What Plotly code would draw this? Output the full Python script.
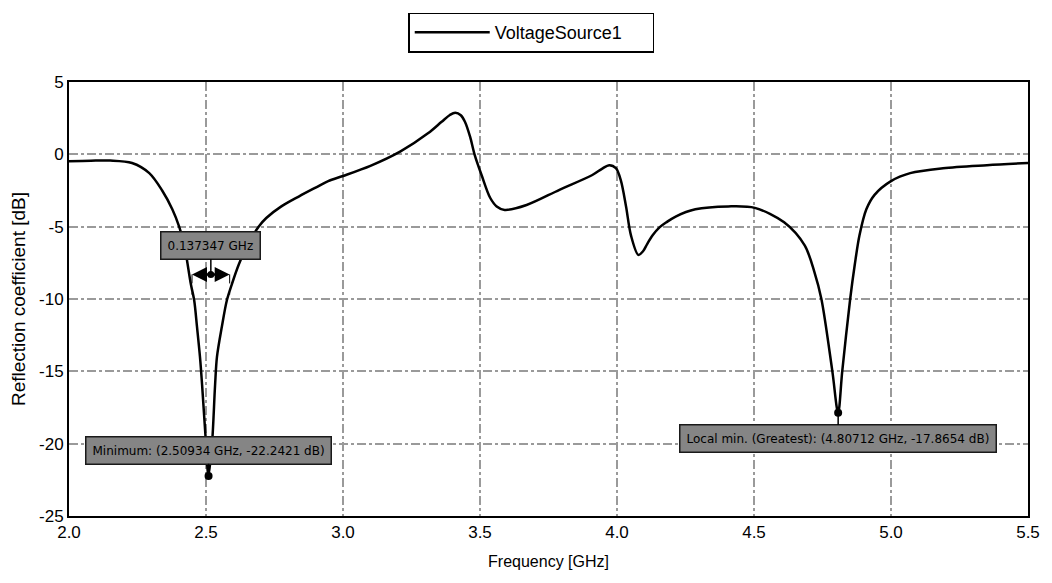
import plotly.graph_objects as go

# ---- data ----
freq_ghz = [2.00, 2.08, 2.15, 2.23, 2.293, 2.34, 2.377, 2.402, 2.42, 2.445,
            2.457, 2.467, 2.478, 2.486, 2.500, 2.509, 2.522, 2.533, 2.540, 2.558,
            2.576, 2.594, 2.62, 2.655, 2.692, 2.72, 2.775, 2.84, 2.90, 2.946,
            3.00, 3.10, 3.21, 3.31, 3.36, 3.39, 3.41, 3.43, 3.445, 3.464,
            3.48, 3.507, 3.537, 3.561, 3.59, 3.67, 3.79, 3.91, 3.945, 3.972,
            3.996, 4.014, 4.033, 4.051, 4.078, 4.095, 4.11, 4.13, 4.155, 4.18,
            4.214, 4.286, 4.406, 4.503, 4.61, 4.685, 4.72, 4.746, 4.786, 4.807,
            4.822, 4.851, 4.868, 4.885, 4.91, 4.94, 5.00, 5.07, 5.19, 5.35,
            5.50]
refl_db = [-0.48, -0.44, -0.43, -0.60, -1.30, -2.50, -3.80, -5.00, -6.20, -9.00,
           -10.1, -11.9, -14.0, -16.0, -20.0, -22.2421, -20.0, -16.0, -14.0, -11.9,
           -10.1, -9.0, -7.6, -6.15, -5.0, -4.4, -3.6, -2.9, -2.3, -1.85,
           -1.5, -0.8, 0.2, 1.45, 2.25, 2.72, 2.88, 2.7, 2.25, 1.2,
           0.0, -1.5, -3.0, -3.6, -3.84, -3.5, -2.45, -1.43, -1.0, -0.75,
           -0.96, -1.8, -3.6, -5.6, -6.95, -6.7, -6.2, -5.6, -5.05, -4.7,
           -4.3, -3.8, -3.6, -3.7, -4.7, -6.3, -8.1, -10.0, -15.0, -17.8654,
           -15.0, -10.0, -7.6, -5.6, -3.8, -2.8, -1.85, -1.3, -0.96, -0.75,
           -0.6]

series_name = "VoltageSource1"
x_ticks = [2.0, 2.5, 3.0, 3.5, 4.0, 4.5, 5.0, 5.5]
y_ticks = [-25, -20, -15, -10, -5, 0, 5]

min_point = (2.50934, -22.2421)
min_label = "Minimum: (2.50934 GHz, -22.2421 dB)"
local_min_point = (4.80712, -17.8654)
local_min_label = "Local min. (Greatest): (4.80712 GHz, -17.8654 dB)"
bw_left, bw_width, bw_level, bw_tick_end = 2.449, 0.137347, -8.3, -9.7
bw_label = "0.137347 GHz"

REG = "Liberation Sans, Arial, sans-serif"
ANN = "DejaVu Sans, Verdana, sans-serif"

fig = go.Figure()
fig.add_trace(go.Scatter(
    x=freq_ghz, y=refl_db, mode="lines", name=series_name + "\u00a0" * 5,
    line=dict(color="black", width=2.5, shape="spline", smoothing=0.9),
))
fig.add_trace(go.Scatter(
    x=[min_point[0], local_min_point[0]], y=[min_point[1], local_min_point[1]],
    mode="markers", marker=dict(color="black", size=8), showlegend=False,
    hoverinfo="skip",
))
bw_right = bw_left + bw_width
bw_mid = bw_left + bw_width / 2
fig.add_trace(go.Scatter(
    x=[bw_mid], y=[bw_level], mode="markers",
    marker=dict(color="black", size=7), showlegend=False, hoverinfo="skip",
))

# dashed vertical bandwidth markers
for xv in (bw_left, bw_right):
    fig.add_shape(type="line", x0=xv, x1=xv, y0=bw_level, y1=bw_tick_end,
                  xref="x", yref="y", line=dict(color="black", width=1, dash="dash"))

box_style = dict(bgcolor="#858585", bordercolor="#1a1a1a", borderwidth=1.5,
                 borderpad=6, font=dict(family=ANN, size=12, color="#000000"))

# arrows of bandwidth marker
for xv in (bw_left, bw_right):
    fig.add_annotation(x=xv, y=bw_level, ax=bw_mid, ay=bw_level,
                       xref="x", yref="y", axref="x", ayref="y", text="",
                       showarrow=True, arrowhead=2, arrowsize=1.2, arrowwidth=2.5,
                       arrowcolor="black", standoff=0)

fig.add_annotation(x=bw_mid, y=bw_level, text=bw_label, showarrow=True,
                   ax=0, ay=-29, arrowhead=0, arrowwidth=1.5, arrowcolor="black",
                   standoff=0, **box_style)
fig.add_annotation(x=min_point[0], y=min_point[1], text=min_label, showarrow=True,
                   ax=0, ay=-26, arrowhead=0, arrowwidth=1.5, arrowcolor="black",
                   standoff=0, **box_style)
fig.add_annotation(x=local_min_point[0], y=local_min_point[1], text=local_min_label,
                   showarrow=True, ax=0, ay=26, arrowhead=0, arrowwidth=1.5,
                   arrowcolor="black", standoff=0, **box_style)

grid = dict(showgrid=True, gridcolor="#9a9a9a", gridwidth=1.5, griddash="dashdot",
            zeroline=False, showline=True, linecolor="black", linewidth=2,
            mirror=True, ticks="", tickfont=dict(family=REG, size=17, color="black"))

fig.update_xaxes(range=[2.0, 5.5], tickvals=x_ticks,
                 ticktext=[f"{v:.1f}" for v in x_ticks],
                 title=dict(text="Frequency [GHz]", font=dict(family=REG, size=16, color="black"),
                            standoff=14),
                 **grid)
fig.update_yaxes(range=[-25, 5], tickvals=y_ticks,
                 ticktext=[str(v) for v in y_ticks],
                 title=dict(text="Reflection coefficient [dB]", font=dict(family=REG, size=19, color="black"),
                            standoff=8),
                 **grid)

fig.update_layout(
    width=1052, height=583,
    margin=dict(l=69, r=19, t=78, b=67),
    paper_bgcolor="white", plot_bgcolor="white",
    showlegend=True,
    legend=dict(x=0.482, xanchor="center", y=1.16, yanchor="top",
                bordercolor="black", borderwidth=1.5, bgcolor="white",
                font=dict(family=REG, size=18, color="black"),
                itemwidth=75, orientation="h"),
)

fig.write_html("out.html")
